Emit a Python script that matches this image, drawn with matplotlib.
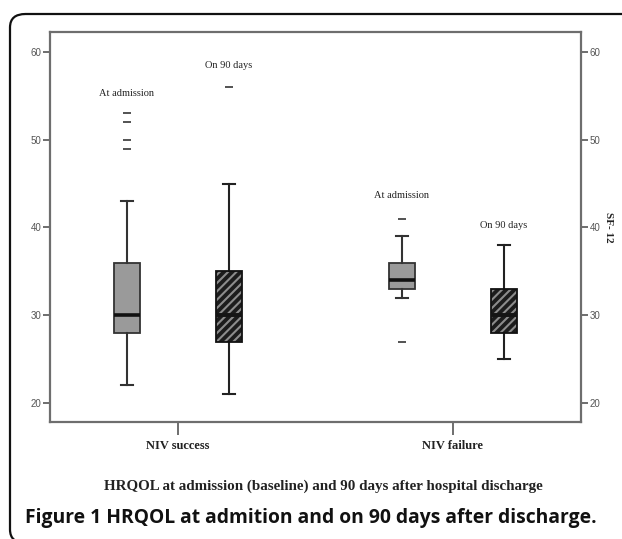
import matplotlib
matplotlib.use("Agg")
import matplotlib.pyplot as plt
from matplotlib.patches import FancyBboxPatch

# ---- data ----
groups = ["NIV success", "NIV failure"]
series = ["At admission", "On 90 days"]
whislo = [[22, 21], [32, 25]]
q1 = [[28, 27], [33, 28]]
med = [[30, 30], [34, 30]]
q3 = [[36, 35], [36, 33]]
whishi = [[43, 45], [39, 38]]
fliers = [[[49, 50, 52, 53], [56]], [[27, 41], []]]
label_y = [[55.3, 58.5], [43.7, 40.2]]
yticks = [20, 30, 40, 50, 60]
ylabel = "SF- 12"
title = "HRQOL at admission (baseline) and 90 days after hospital discharge"
caption = "Figure 1 HRQOL at admition and on 90 days after discharge."

plt.rcParams["hatch.linewidth"] = 1.5

W, H = 622, 539
fig = plt.figure(figsize=(W / 100, H / 100), dpi=100)
ax = fig.add_axes([50 / W, 1 - 422 / H, 531 / W, 390 / H])

offset = 0.186
bw = 0.095
serif = ["Liberation Serif", "DejaVu Serif"]
sans = ["Liberation Sans", "DejaVu Sans"]

for gi, g in enumerate(groups):
    for si, s in enumerate(series):
        pos = gi + 1 + (-offset if si == 0 else offset)
        st = [dict(whislo=whislo[gi][si], q1=q1[gi][si], med=med[gi][si],
                   q3=q3[gi][si], whishi=whishi[gi][si], fliers=fliers[gi][si])]
        common = dict(positions=[pos], widths=bw, capwidths=0.044,
                      patch_artist=True, manage_ticks=False)
        fp = dict(marker="_", markersize=6, markeredgecolor="#444444", markeredgewidth=1.3)
        if si == 0:
            ax.bxp(st, boxprops=dict(facecolor="#9a9a9a", edgecolor="#333333", linewidth=1.3),
                   medianprops=dict(color="#111111", linewidth=2.6),
                   whiskerprops=dict(color="#333333", linewidth=1.5),
                   capprops=dict(color="#333333", linewidth=1.5),
                   flierprops=fp, zorder=2, **common)
        else:
            ax.bxp(st, boxprops=dict(facecolor="#1c1c1c", edgecolor="#8c8c8c",
                                     hatch="////", linewidth=0),
                   medianprops=dict(color="#151515", linewidth=2.6),
                   whiskerprops=dict(color="#222222", linewidth=1.5),
                   capprops=dict(color="#222222", linewidth=1.5),
                   flierprops=fp, zorder=2, **common)
            ax.bxp(st, boxprops=dict(facecolor="none", edgecolor="#111111", linewidth=1.3),
                   medianprops=dict(color="#151515", linewidth=2.6),
                   whiskerprops=dict(linewidth=0), capprops=dict(linewidth=0),
                   showfliers=False, zorder=3, **common)
        ax.text(pos, label_y[gi][si], s, ha="center", va="center",
                family=serif, fontsize=7.5, color="#222222")

ax.set_xlim(0.534, 2.467)
ax.set_ylim(17.83, 62.28)
ax.set_yticks(yticks)
ax.set_xticks([1, 2])
ax.set_xticklabels(groups, family=serif, fontsize=9, fontweight="bold", color="#222222")
ax.tick_params(axis="y", which="both", left=True, right=True, labelleft=True,
               labelright=True, length=5, width=1.2, color="#555555",
               labelsize=7, labelcolor="#555555", pad=1)
for lab in ax.get_yticklabels():
    lab.set_family(sans)
ax.tick_params(axis="x", length=9, width=1.2, color="#555555", pad=4)
for sp in ax.spines.values():
    sp.set_color("#6e6e6e")
    sp.set_linewidth(1.6)

fig.text(608 / W, 1 - 227 / H, ylabel, rotation=270, ha="center", va="center",
         family=serif, fontsize=8, fontweight="bold", color="#222222")

# title and caption fitted to their measured widths
renderer = fig.canvas.get_renderer()
t = fig.text(323 / W, 1 - 486 / H, title, ha="center", va="center",
             family=serif, fontsize=9, fontweight="bold", color="#222222")
wt = t.get_window_extent(renderer).width
t.set_fontsize(9 * 436 / wt)
c = fig.text(25 / W, 1 - 518 / H, caption, ha="left", va="center",
             family=["Open Sans", "DejaVu Sans"], fontsize=11, fontweight="bold",
             color="#111111")
wc = c.get_window_extent(renderer).width
c.set_fontsize(11 * 571 / wc)

border = FancyBboxPatch((10 / W, -4 / H), 1.2, 1 - 14 / H + 4 / H,
                        boxstyle="round,pad=0,rounding_size=0.025",
                        transform=fig.transFigure, fill=False,
                        edgecolor="#111111", linewidth=1.6, clip_on=False)
fig.patches.append(border)

fig.savefig("out.png", dpi=100)
